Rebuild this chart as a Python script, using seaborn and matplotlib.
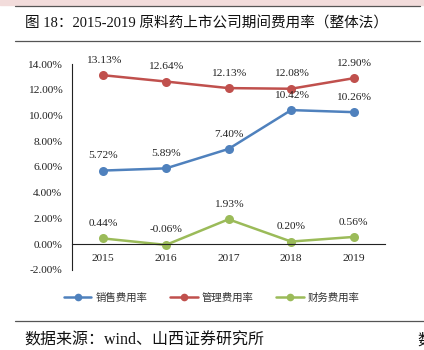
import pandas as pd
import matplotlib
matplotlib.use('Agg')
import matplotlib.pyplot as plt
from matplotlib.ticker import FuncFormatter
from matplotlib.lines import Line2D
import seaborn as sns

# dados
anos = ['2015', '2016', '2017', '2018', '2019']
series = ['销售费用率', '管理费用率', '财务费用率']
vendas = [5.72, 5.89, 7.40, 10.42, 10.26]
gestao = [13.13, 12.64, 12.13, 12.08, 12.90]
financeiro = [0.44, -0.06, 1.93, 0.20, 0.56]
cores = ['#4F81BD', '#C0504D', '#9BBB59']

titulo = '图 18：2015-2019 原料药上市公司期间费用率（整体法）'
fonte = '数据来源：wind、山西证券研究所'

df = pd.DataFrame({
    'Ano': anos * 3,
    'Serie': [series[0]] * 5 + [series[1]] * 5 + [series[2]] * 5,
    'Valor': vendas + gestao + financeiro,
})

sns.set_style('white')
plt.rcParams['font.family'] = ['Liberation Serif', 'Noto Sans CJK SC']

fig = plt.figure(figsize=(4.24, 3.5), dpi=100)
ax = fig.add_axes([0.170, 0.229, 0.738, 0.588])

sns.lineplot(data=df, x='Ano', y='Valor', hue='Serie', palette=cores,
             marker='o', markersize=6.5, markeredgewidth=0, linewidth=1.8,
             legend=False, ax=ax)

# rótulos de dados
for s, vals in zip(series, [vendas, gestao, financeiro]):
    for i, v in enumerate(vals):
        ax.annotate(f'{v:.2f}%', (i, v), xytext=(0, 7.5), textcoords='offset points',
                    ha='center', va='bottom', fontsize=8.2, color='#222222')

ax.set_ylim(-2, 14)
ax.set_xlim(-0.5, 4.5)
ax.set_yticks(range(-2, 15, 2))
ax.yaxis.set_major_formatter(FuncFormatter(lambda v, p: f'{v:.2f}%'))
ax.set_xlabel('')
ax.set_ylabel('')
ax.tick_params(axis='both', length=0, labelsize=8.2, colors='#222222')
ax.tick_params(axis='x', pad=7)
ax.tick_params(axis='y', pad=7)

ax.spines['top'].set_visible(False)
ax.spines['right'].set_visible(False)
ax.spines['left'].set_color('#222222')
ax.spines['left'].set_linewidth(0.8)
ax.spines['bottom'].set_position(('data', 0))
ax.spines['bottom'].set_color('#222222')
ax.spines['bottom'].set_linewidth(0.8)

handles = [Line2D([], [], color=c, marker='o', markersize=5.5, markeredgewidth=0, linewidth=1.8)
           for c in cores]
fig.legend(handles, series, loc='center', bbox_to_anchor=(0.5, 0.149), ncol=3,
           frameon=False, fontsize=7.5, handlelength=2.6, columnspacing=2.2,
           handletextpad=0.4, labelcolor='#333333')

# cabeçalho e rodapé
fig.patches.append(plt.Rectangle((0, 0.986), 1, 0.014, transform=fig.transFigure,
                                 color='#F2DCDB', zorder=0))
fig.add_artist(Line2D([0.035, 0.99], [0.984, 0.984], color='#555555', linewidth=0.9))
fig.add_artist(Line2D([0.035, 0.99], [0.883, 0.883], color='#555555', linewidth=0.9))
fig.add_artist(Line2D([0.035, 1.0], [0.083, 0.083], color='#555555', linewidth=0.9))
fig.text(0.058, 0.934, titulo, fontsize=10.5, va='center', ha='left', color='#111111')
fig.text(0.058, 0.026, fonte, fontsize=11.5, va='center', ha='left', color='#111111')
fig.text(0.985, 0.026, '数', fontsize=11.5, va='center', ha='left', color='#111111')

fig.savefig('out.png', dpi=100)
plt.close(fig)
print('ok')
